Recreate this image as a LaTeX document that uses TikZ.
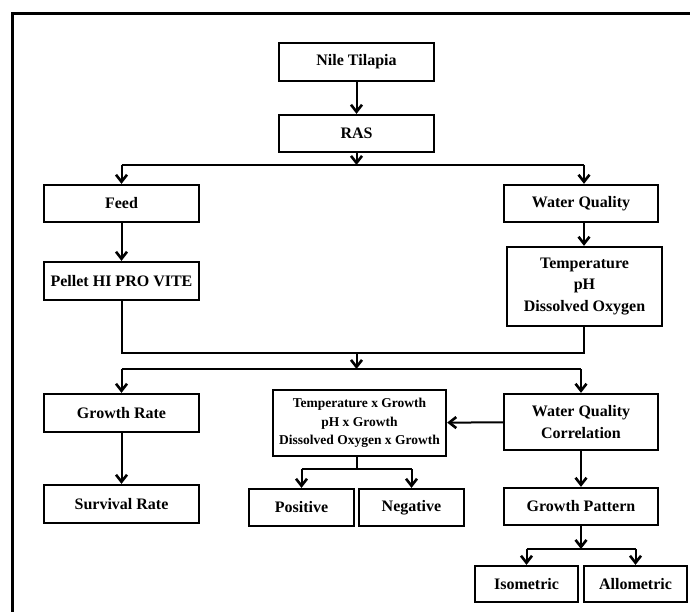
\documentclass[tikz,border=0pt]{standalone}
\usepackage{fontspec}
\setmainfont{Liberation Serif}
\usetikzlibrary{arrows.meta}
\tikzset{
  box/.style={draw, line width=2.3pt, inner sep=0pt, align=center,
    font=\fontsize{16}{21.5}\selectfont\bfseries},
  smallbox/.style={box, font=\fontsize{13.5}{18.3}\selectfont\bfseries},
  conn/.style={line width=2pt},
  arr/.style={conn, -{Straight Barb[length=7pt,width=11pt,line width=2.6pt]}},
}
\begin{document}
\begin{tikzpicture}[x=1pt,y=-1pt]
\useasboundingbox (0,0) rectangle (690,612);
\draw[line width=3pt] (12,612) -- (12,14) -- (690,14);

\node[box, minimum width=155pt, minimum height=38pt] (nile) at (356.5,62) {Nile Tilapia};
\node[box, minimum width=155pt, minimum height=37pt] (ras) at (356.5,133.5) {RAS};
\node[box, minimum width=155pt, minimum height=37pt] (feed) at (121.5,203.5) {Feed};
\node[box, minimum width=154pt, minimum height=37pt] (wq) at (581,203.5) {Water Quality};
\node[box, minimum width=155pt, minimum height=38pt] (pellet) at (121.5,281) {Pellet HI PRO VITE};
\node[box, minimum width=155pt, minimum height=79pt] (params) at (584.5,286.5) {Temperature\\pH\\Dissolved Oxygen};
\node[box, minimum width=155pt, minimum height=38pt] (growth) at (121.5,413) {Growth Rate};
\node[box, minimum width=155pt, minimum height=38pt] (survival) at (121.5,504) {Survival Rate};
\node[smallbox, minimum width=173pt, minimum height=66pt] (corr) at (359.5,423) {Temperature x Growth\\pH x Growth\\Dissolved Oxygen x Growth};
\node[box, minimum width=154pt, minimum height=56pt] (wqc) at (581,422) {Water Quality\\Correlation};
\node[box, minimum width=105pt, minimum height=37pt] (pos) at (301.5,507.5) {Positive};
\node[box, minimum width=105pt, minimum height=37pt] (neg) at (411.5,507.5) {Negative};
\node[box, minimum width=154pt, minimum height=37pt] (gpat) at (581,506.5) {Growth Pattern};
\node[box, minimum width=103pt, minimum height=36pt] (iso) at (526.5,584) {Isometric};
\node[box, minimum width=103pt, minimum height=36pt] (allo) at (635.5,584) {Allometric};

\coordinate (s1) at (356.5,165);
\coordinate (m1) at (356.5,353);
\coordinate (s2) at (356.5,369);
\coordinate (c1) at (357,469);
\coordinate (g1) at (581,549);
\coordinate (wqx) at (584,0);

% top
\draw[arr] (nile) -- (ras);
\draw[arr] (ras) -- (s1);
\draw[conn] (feed.north |- s1) -- (wqx |- s1);
\draw[arr] (feed.north |- s1) -- (feed.north);
\draw[arr] (wqx |- s1) -- (wqx |- wq.north);
\draw[arr] (feed) -- (pellet);
\draw[arr] (wqx |- wq.south) -- (wqx |- params.north);

% merge
\draw[conn] (pellet.south) -- (pellet.south |- m1) -- (wqx |- m1) -- (wqx |- params.south);
\draw[arr] (m1) -- (s2);
\draw[conn] (growth.north |- s2) -- (wqc.north |- s2);
\draw[arr] (growth.north |- s2) -- (growth.north);
\draw[arr] (wqc.north |- s2) -- (wqc.north);

% lower
\draw[arr] (growth) -- (survival);
\draw[arr] (wqc) -- (corr);
\draw[conn] (c1 |- corr.south) -- (c1);
\draw[conn] (pos.north |- c1) -- (neg.north |- c1);
\draw[arr] (pos.north |- c1) -- (pos.north);
\draw[arr] (neg.north |- c1) -- (neg.north);
\draw[arr] (wqc) -- (gpat);
\draw[arr] (gpat) -- (g1);
\draw[conn] (iso.north |- g1) -- (allo.north |- g1);
\draw[arr] (iso.north |- g1) -- (iso.north);
\draw[arr] (allo.north |- g1) -- (allo.north);
\end{tikzpicture}
\end{document}
